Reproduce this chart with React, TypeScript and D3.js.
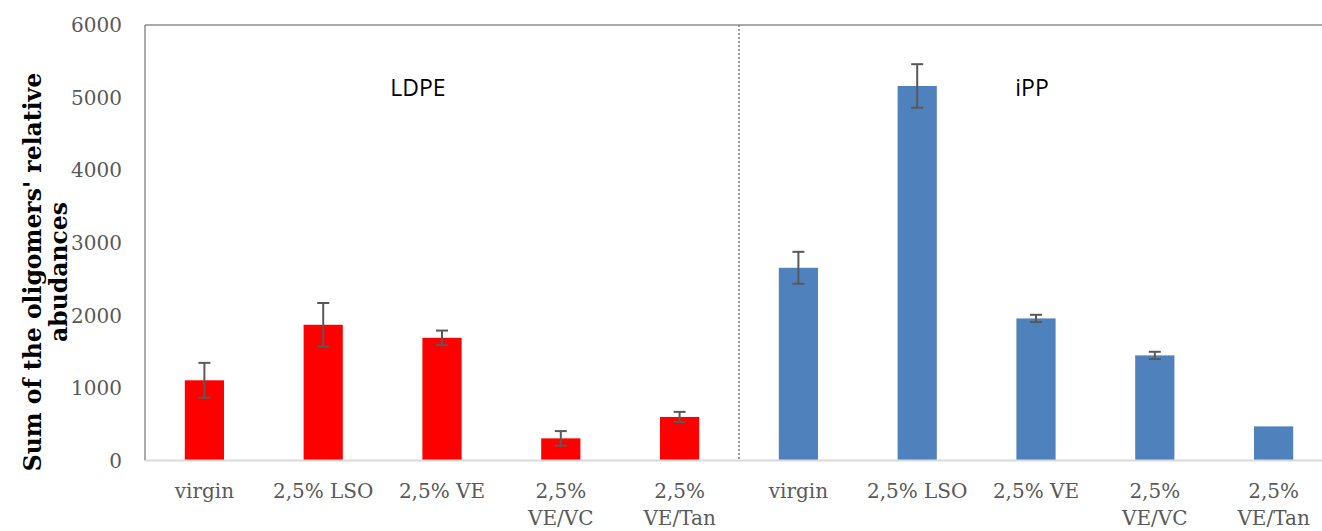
import React from "react";
import * as d3 from "d3";

const categories = ["virgin", "2,5% LSO", "2,5% VE", "2,5% VE/VC", "2,5% VE/Tan"];
const ldpeValues = [1105, 1870, 1690, 305, 600];
const ldpeErrors = [240, 300, 100, 100, 70];
const ippValues = [2655, 5160, 1957, 1448, 470];
const ippErrors = [220, 300, 50, 50, 0];
const yTicks = [0, 1000, 2000, 3000, 4000, 5000, 6000];
const groupNames = ["LDPE", "iPP"];
const yLabelLines = ["Sum of the oligomers' relative", "abudances"];

const W = 1322;
const H = 531;
const plotLeft = 145;
const plotRight = 1333;
const plotTop = 25;
const plotBottom = 460.5;

type Bar = { key: string; label: string; value: number; err: number; group: number };

export default function App() {
  const bars: Bar[] = [
    ...categories.map((c, i) => ({ key: "L" + i, label: c, value: ldpeValues[i], err: ldpeErrors[i], group: 0 })),
    ...categories.map((c, i) => ({ key: "P" + i, label: c, value: ippValues[i], err: ippErrors[i], group: 1 })),
  ];
  const x = d3.scaleBand<string>().domain(bars.map((b) => b.key)).range([plotLeft, plotRight]).paddingInner(0.67).paddingOuter(0.335);
  const step = x.step();
  const y = d3.scaleLinear().domain([0, 6000]).range([plotBottom, plotTop]);
  const colors = ["#FF0000", "#4F81BD"];
  const divider = plotLeft + step * 5;
  const tickFont = "'DejaVu Serif', serif";

  return (
    <svg width={W} height={H} style={{ position: "absolute", left: 0, top: 0, background: "#fff" }}>
      {/* frame */}
      <line x1={plotLeft} x2={plotRight} y1={plotTop} y2={plotTop} stroke="#8c8c8c" strokeWidth={1.5} />
      <line x1={plotLeft} x2={plotLeft} y1={plotTop} y2={plotBottom} stroke="#8c8c8c" strokeWidth={1.5} />
      <line x1={divider} x2={divider} y1={plotTop} y2={plotBottom} stroke="#7f7f7f" strokeWidth={1.5} strokeDasharray="2,2" />
      {/* y ticks */}
      {yTicks.map((t) => (
        <text key={t} x={122} y={y(t)} dy="0.36em" textAnchor="end" fontFamily={tickFont} fontSize={20} fill="#595959">
          {t}
        </text>
      ))}
      {/* bars */}
      {bars.map((b) => {
        const bx = x(b.key)!;
        const cx = bx + x.bandwidth() / 2;
        return (
          <g key={b.key}>
            <rect x={bx} y={y(b.value)} width={x.bandwidth()} height={plotBottom - y(b.value)} fill={colors[b.group]} />
            {b.err > 0 && (
              <g stroke="#595959" strokeWidth={2}>
                <line x1={cx} x2={cx} y1={y(b.value + b.err)} y2={y(b.value - b.err)} />
                <line x1={cx - 6} x2={cx + 6} y1={y(b.value + b.err)} y2={y(b.value + b.err)} />
                <line x1={cx - 6} x2={cx + 6} y1={y(b.value - b.err)} y2={y(b.value - b.err)} />
              </g>
            )}
          </g>
        );
      })}
      <line x1={plotLeft} x2={plotRight} y1={plotBottom} y2={plotBottom} stroke="#d9d9d9" strokeWidth={2} />
      {/* x labels */}
      {bars.map((b) => {
        const cx = x(b.key)! + x.bandwidth() / 2;
        const parts = b.label.split(" ");
        const lines = b.label.includes("/") ? [parts[0], parts.slice(1).join(" ")] : [b.label];
        return (
          <text key={"t" + b.key} textAnchor="middle" fontFamily={tickFont} fontSize={20} fill="#595959">
            {lines.map((l, i) => (
              <tspan key={i} x={cx} y={498 + i * 27}>
                {l}
              </tspan>
            ))}
          </text>
        );
      })}
      {/* group names */}
      {groupNames.map((g, i) => (
        <text key={g} x={i === 0 ? 418 : 1032} y={96} textAnchor="middle" fontFamily="'Open Sans', sans-serif" fontSize={23} fill="#000">
          {g}
        </text>
      ))}
      {/* y label */}
      <text transform={`translate(46,272) rotate(-90)`} textAnchor="middle" fontFamily={tickFont} fontWeight="bold" fontSize={23.5} fill="#000">
        {yLabelLines.map((l, i) => (
          <tspan key={i} x={0} y={i * 26 - 5}>
            {l}
          </tspan>
        ))}
      </text>
    </svg>
  );
}
